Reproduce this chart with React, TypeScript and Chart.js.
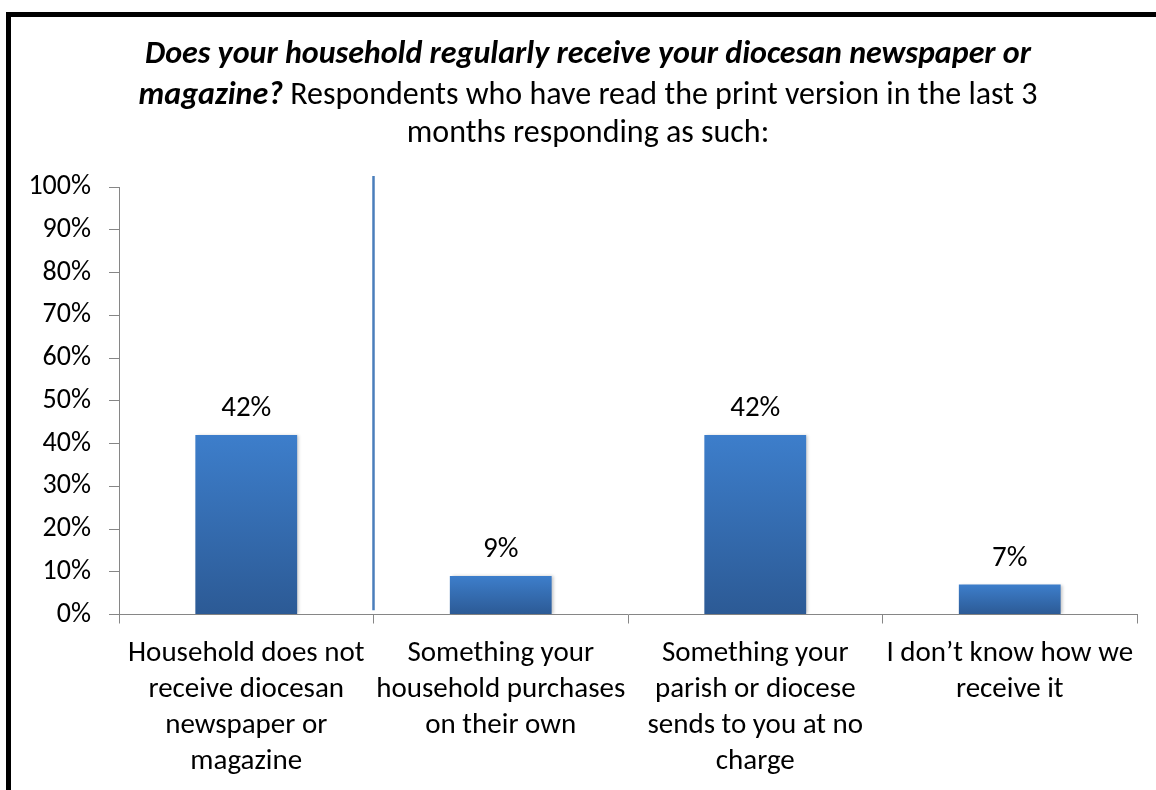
import React, { useEffect, useRef } from "react";
import { Chart, registerables } from "chart.js";

Chart.register(...registerables);

// ---- Data ----
const categories: string[][] = [
  ["Household does not", "receive diocesan", "newspaper or", "magazine"],
  ["Something your", "household purchases", "on their own"],
  ["Something your", "parish or diocese", "sends to you at no", "charge"],
  ["I don\u2019t know how we", "receive it"],
];
const values: number[] = [42, 9, 42, 7];
const yMin = 0;
const yMax = 100;
const yStep = 10;

type Seg = { text: string; bold?: boolean; italic?: boolean };
const titleLines: Seg[][] = [
  [{ text: "Does your household regularly receive your diocesan newspaper or", bold: true, italic: true }],
  [
    { text: "magazine?", bold: true, italic: true },
    { text: " Respondents who have read the print version in the last 3" },
  ],
  [{ text: "months responding as such:" }],
];

// separator line between category 0 and 1, spanning these values
const separatorAfterIndex = 0;
const separatorFrom = 1;
const separatorTo = 102.6;

const FONT = "Calibri, Carlito, Lato, sans-serif";
const AXIS_GRAY = "#868686";

const titlePlugin = {
  id: "mixedTitle",
  afterDraw(chart: any) {
    const ctx = chart.ctx as CanvasRenderingContext2D;
    const cx = chart.width / 2 + 10;
    const size = 32;
    const lineYs = [55, 96, 134];
    ctx.save();
    ctx.fillStyle = "#000";
    ctx.textBaseline = "middle";
    ctx.textAlign = "left";
    titleLines.forEach((line, i) => {
      const fonts = line.map(
        (s) => `${s.italic ? "italic " : ""}${s.bold ? "bold " : ""}${size}px ${FONT}`
      );
      let total = 0;
      const widths = line.map((s, j) => {
        ctx.font = fonts[j];
        const w = ctx.measureText(s.text).width;
        total += w;
        return w;
      });
      let x = cx - total / 2;
      line.forEach((s, j) => {
        ctx.font = fonts[j];
        ctx.fillText(s.text, x, lineYs[i]);
        x += widths[j];
      });
    });
    ctx.restore();
  },
};

const labelPlugin = {
  id: "barLabels",
  afterDatasetsDraw(chart: any) {
    const ctx = chart.ctx as CanvasRenderingContext2D;
    const meta = chart.getDatasetMeta(0);
    ctx.save();
    ctx.font = `29px ${FONT}`;
    ctx.fillStyle = "#000";
    ctx.textAlign = "center";
    ctx.textBaseline = "middle";
    meta.data.forEach((bar: any, i: number) => {
      ctx.fillText(values[i] + "%", bar.x, bar.y - 26);
    });
    ctx.restore();
  },
};

const separatorPlugin = {
  id: "separator",
  afterDatasetsDraw(chart: any) {
    const ctx = chart.ctx as CanvasRenderingContext2D;
    const xs = chart.scales.x;
    const ys = chart.scales.y;
    const x =
      (xs.getPixelForValue(separatorAfterIndex) + xs.getPixelForValue(separatorAfterIndex + 1)) / 2;
    ctx.save();
    ctx.strokeStyle = "#4a7ebb";
    ctx.lineWidth = 2.5;
    ctx.beginPath();
    ctx.moveTo(x, ys.getPixelForValue(separatorTo));
    ctx.lineTo(x, ys.getPixelForValue(separatorFrom));
    ctx.stroke();
    ctx.restore();
  },
};

const shadowPlugin = {
  id: "barShadow",
  beforeDatasetsDraw(chart: any) {
    const ctx = chart.ctx as CanvasRenderingContext2D;
    ctx.save();
    ctx.shadowColor = "rgba(0,0,0,0.22)";
    ctx.shadowOffsetX = 2;
    ctx.shadowOffsetY = 0;
    ctx.shadowBlur = 3;
  },
  afterDatasetsDraw(chart: any) {
    chart.ctx.restore();
  },
};

function barFill(c: any) {
  const chart = c.chart;
  const ys = chart.scales?.y;
  if (!ys || !chart.chartArea) return "#3a70b8";
  const v = values[c.dataIndex] ?? 0;
  const top = ys.getPixelForValue(v);
  const bottom = ys.getPixelForValue(0);
  const g = chart.ctx.createLinearGradient(0, top, 0, bottom);
  g.addColorStop(0, "#3d7ecb");
  g.addColorStop(1, "#2c5a95");
  return g;
}

export default function App() {
  const ref = useRef<HTMLCanvasElement | null>(null);
  useEffect(() => {
    if (!ref.current) return;
    const chart = new Chart(ref.current, {
      type: "bar",
      data: {
        labels: categories,
        datasets: [
          {
            data: values,
            backgroundColor: barFill,
            borderWidth: 0,
            barPercentage: 0.4,
            categoryPercentage: 1,
          },
        ],
      },
      options: {
        responsive: false,
        animation: false,
        events: [],
        layout: { padding: { top: 187, right: 19, left: 0, bottom: 0 } },
        plugins: {
          legend: { display: false },
          title: { display: false },
          tooltip: { enabled: false },
        },
        scales: {
          x: {
            grid: {
              offset: true,
              drawOnChartArea: false,
              tickLength: 9,
              color: AXIS_GRAY,
            },
            border: { color: AXIS_GRAY, width: 1 },
            ticks: {
              font: { family: FONT, size: 29, lineHeight: 1.24 },
              color: "#000",
              padding: 12,
              maxRotation: 0,
              autoSkip: false,
            },
            afterFit: (s: any) => {
              s.height = 175.5;
            },
          },
          y: {
            min: yMin,
            max: yMax,
            grid: {
              drawOnChartArea: false,
              tickLength: 10,
              color: AXIS_GRAY,
            },
            border: { color: AXIS_GRAY, width: 1 },
            ticks: {
              stepSize: yStep,
              font: { family: FONT, size: 28 },
              color: "#000",
              padding: 18,
              callback: (v: any) => v + "%",
            },
            afterFit: (s: any) => {
              s.width = 119;
            },
          },
        },
      },
      plugins: [shadowPlugin, labelPlugin, separatorPlugin, titlePlugin],
    });
    return () => chart.destroy();
  }, []);

  return (
    <div
      style={{
        position: "fixed",
        left: 0,
        top: 0,
        width: 1156,
        height: 790,
        background: "#fff",
        overflow: "hidden",
      }}
    >
      <canvas ref={ref} width={1156} height={790} style={{ position: "absolute", left: 0, top: 0 }} />
      <div
        style={{
          position: "absolute",
          left: 6,
          top: 12,
          width: 1200,
          height: 900,
          borderLeft: "5px solid #000",
          borderTop: "5px solid #000",
          pointerEvents: "none",
        }}
      />
    </div>
  );
}
